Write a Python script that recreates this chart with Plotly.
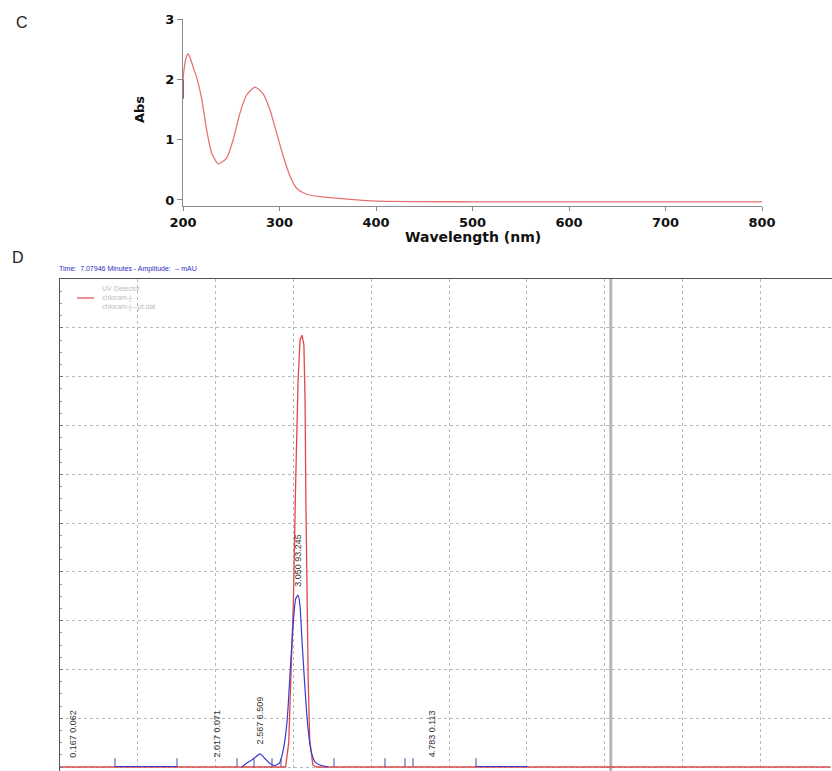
import numpy as np
import plotly.graph_objects as go

# ---------------- Panel C: UV-Vis spectrum ----------------
wl_nm = [200, 201, 203, 205.5, 208, 211, 214, 219, 224.5, 229.7, 236.6, 245, 252, 259, 266,
         274.6, 283, 290, 297, 304, 311, 318, 328, 342, 373, 400, 500, 600, 700, 800]
abs_vals = [2.0, 2.15, 2.35, 2.42, 2.33, 2.18, 2.04, 1.71, 1.16, 0.78, 0.60, 0.69, 1.0, 1.44, 1.74,
            1.87, 1.76, 1.50, 1.11, 0.72, 0.39, 0.19, 0.095, 0.055, 0.01, -0.02, -0.03, -0.03, -0.03, -0.03]
start_nm = [200, 200]
start_abs = [1.68, 2.0]
c_xticks = [200, 300, 400, 500, 600, 700, 800]
c_yticks = [0, 1, 2, 3]

# ---------------- Panel D: HPLC chromatogram ----------------
red_time = [0, 2.90, 2.94, 2.97, 3.00, 3.03, 3.06, 3.085, 3.11, 3.135, 3.15, 3.16, 3.175, 3.19, 3.21, 3.25, 3.30, 9.9]
red_mau = [0, 0, 0.5, 1.8, 3.4, 5.9, 7.9, 8.75, 8.85, 8.65, 7.5, 5.5, 3.4, 1.8, 0.55, 0.04, 0, 0]
blue_time = [2.34, 2.40, 2.46, 2.51, 2.57, 2.63, 2.70, 2.76, 2.82, 2.87, 2.92, 2.96, 3.00, 3.03,
             3.06, 3.085, 3.11, 3.15, 3.19, 3.23, 3.28, 3.34, 3.45]
blue_mau = [0, 0.08, 0.14, 0.2, 0.27, 0.18, 0.07, 0.03, 0.08, 0.35, 0.96, 2.0, 3.0, 3.45,
            3.52, 3.3, 2.6, 1.58, 0.76, 0.31, 0.1, 0.04, 0]
baseline_start = [0.707, 5.347]
baseline_end = [1.504, 6.01]
event_times = [0.707, 1.504, 2.275, 2.494, 2.725, 2.841, 3.522, 4.177, 4.434, 4.537, 5.347]
peak_times = [0.167, 2.017, 2.567, 3.050, 4.783]
peak_areas = ["0.062", "0.071", "6.509", "93.245", "0.113"]
cursor_time = 7.07946

W, H = 832, 771
fig = go.Figure()

# Panel C traces
fig.add_trace(go.Scatter(x=wl_nm, y=abs_vals, mode="lines", xaxis="x2", yaxis="y2",
                         line=dict(color="#e57373", width=1.3, shape="spline", smoothing=0.6),
                         showlegend=False, hoverinfo="skip"))
fig.add_trace(go.Scatter(x=start_nm, y=start_abs, mode="lines", xaxis="x2", yaxis="y2",
                         line=dict(color="#9b2d3f", width=1.6), showlegend=False, hoverinfo="skip"))

# Panel D traces
fig.add_trace(go.Scatter(x=red_time, y=red_mau, mode="lines",
                         line=dict(color="#e04848", width=1.3), showlegend=False, hoverinfo="skip"))
fig.add_trace(go.Scatter(x=blue_time, y=blue_mau, mode="lines",
                         line=dict(color="#3a3ad0", width=1.2, shape="spline", smoothing=0.5),
                         showlegend=False, hoverinfo="skip"))
seg_x, seg_y = [], []
for a, b in zip(baseline_start, baseline_end):
    seg_x += [a, b, None]
    seg_y += [0.01, 0.01, None]
fig.add_trace(go.Scatter(x=seg_x, y=seg_y, mode="lines",
                         line=dict(color="#3a3ad0", width=1.2), showlegend=False, hoverinfo="skip"))
ev_x, ev_y = [], []
for t in event_times:
    ev_x += [t, t, None]
    ev_y += [0, 0.18, None]
fig.add_trace(go.Scatter(x=ev_x, y=ev_y, mode="lines",
                         line=dict(color="#4a4aa0", width=1), showlegend=False, hoverinfo="skip"))

annotations = []
label_y = np.interp(peak_times, blue_time, blue_mau, left=0, right=0) + 0.15
for t, a, yv in zip(peak_times, peak_areas, label_y):
    annotations.append(dict(x=t, y=yv, xref="x", yref="y", text=f"{t:.3f} {a}",
                            textangle=-90, showarrow=False, xanchor="center", yanchor="bottom",
                            font=dict(family="Liberation Sans", size=9, color="#333333")))

# Panel labels and titles
annotations += [
    dict(x=22 / W, y=1 - 22 / H, xref="paper", yref="paper", text="C", showarrow=False,
         font=dict(family="Liberation Sans", size=16, color="#222"), xanchor="center", yanchor="middle"),
    dict(x=18 / W, y=1 - 258 / H, xref="paper", yref="paper", text="D", showarrow=False,
         font=dict(family="Liberation Sans", size=16, color="#222"), xanchor="center", yanchor="middle"),
    dict(x=140 / W, y=1 - 110 / H, xref="paper", yref="paper", text="<b>Abs</b>", textangle=-90,
         showarrow=False, font=dict(family="DejaVu Sans", size=13, color="#111"),
         xanchor="center", yanchor="middle"),
    dict(x=473 / W, y=1 - 237 / H, xref="paper", yref="paper", text="<b>Wavelength (nm)</b>",
         showarrow=False, font=dict(family="DejaVu Sans", size=14, color="#111"),
         xanchor="center", yanchor="middle"),
    dict(x=57 / W, y=1 - 269 / H, xref="paper", yref="paper",
         text="Time:  7.07946 Minutes - Amplitude:  -- mAU", showarrow=False,
         font=dict(family="Liberation Sans", size=7, color="#2f2fc0"), xanchor="left", yanchor="middle"),
    dict(x=100 / W, y=1 - 298 / H, xref="paper", yref="paper",
         text="UV Detector<br>chloram-j-<br>chloram-j---pt.dat", showarrow=False, align="left",
         font=dict(family="Liberation Sans", size=7, color="#bdbdbd"), xanchor="left", yanchor="middle"),
]

shapes = [
    dict(type="line", xref="paper", yref="paper", x0=77 / W, x1=94 / W, y0=1 - 298 / H, y1=1 - 298 / H,
         line=dict(color="#e04848", width=1.2)),
    dict(type="line", xref="x", yref="paper", x0=cursor_time, x1=cursor_time, y0=0, y1=1 - 279 / H,
         line=dict(color="#b5b5b5", width=3), layer="below"),
]

axis_font = dict(family="DejaVu Sans", size=13, color="#111")
fig.update_layout(
    width=W, height=H, margin=dict(l=0, r=0, t=0, b=0, autoexpand=False),
    paper_bgcolor="white", plot_bgcolor="white", hovermode=False, dragmode=False,
    annotations=annotations, shapes=shapes,
    xaxis2=dict(domain=[183 / W, 762 / W], anchor="y2", range=[200, 800], automargin=False,
                tickvals=c_xticks, ticktext=[f"<b>{v}</b>" for v in c_xticks],
                tickfont=axis_font, showgrid=False, zeroline=False,
                showline=True, linecolor="#8a8a8a", linewidth=1.2,
                ticks="outside", ticklen=4, tickcolor="#8a8a8a"),
    yaxis2=dict(domain=[1 - 206 / H, 1 - 19 / H], anchor="x2", range=[-0.1, 3.0], automargin=False,
                tickvals=c_yticks, ticktext=[f"<b>{v}</b>" for v in c_yticks],
                tickfont=axis_font, showgrid=False, zeroline=False,
                showline=True, linecolor="#8a8a8a", linewidth=1.2,
                ticks="outside", ticklen=5, tickcolor="#8a8a8a"),
    xaxis=dict(domain=[60 / W, 1.0], anchor="y", range=[0, (W - 60) / 77.8], side="top", automargin=False,
               showline=True, linecolor="#555", linewidth=1.5, showticklabels=False, ticks="",
               dtick=1, tick0=0, showgrid=True, gridcolor="#b8b8b8", griddash="dot", gridwidth=1,
               zeroline=False),
    yaxis=dict(domain=[0, 1 - 279 / H], anchor="x", range=[-0.082, 10], automargin=False,
               showline=True, linecolor="#555", linewidth=1.5, showticklabels=False,
               ticks="inside", ticklen=3, tickcolor="#777", dtick=1, tick0=0,
               minor=dict(ticks="inside", ticklen=2, dtick=0.25, tickcolor="#999", showgrid=False),
               showgrid=True, gridcolor="#b8b8b8", griddash="dot", gridwidth=1, zeroline=False),
)

fig.write_html("out.html", config={"displayModeBar": False, "staticPlot": True},
               post_script="document.body.style.margin='0';document.body.style.padding='0';"
                           "document.documentElement.style.overflow='hidden';")
